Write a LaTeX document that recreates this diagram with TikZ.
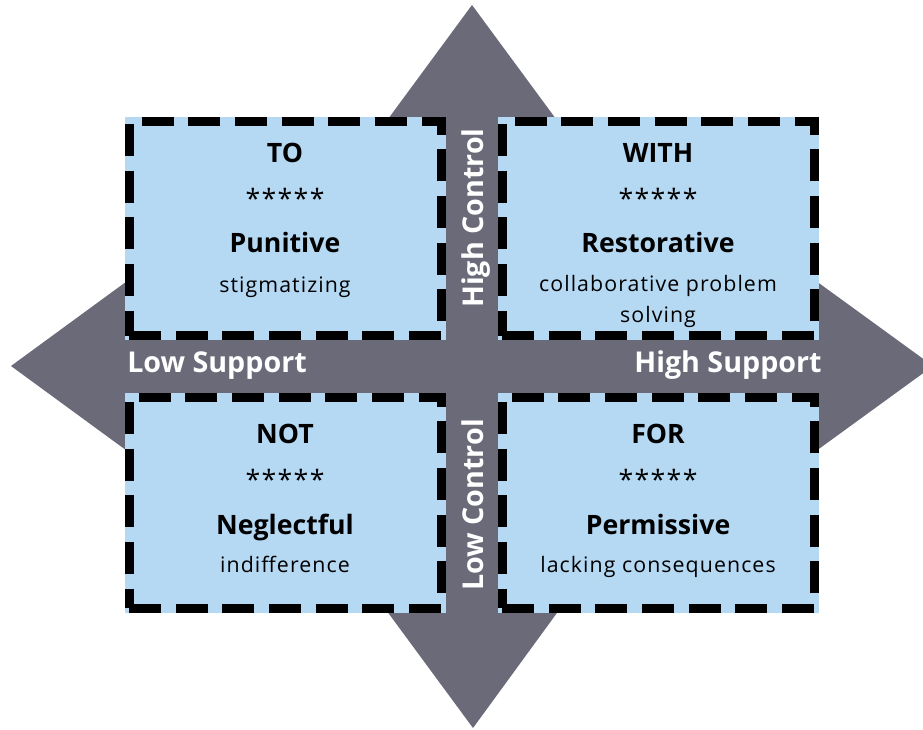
\documentclass[tikz,border=0pt]{standalone}
\usepackage{fontspec}
\usepackage{tikz}
\usepackage{xcolor}
\setmainfont{Open Sans}
\newfontfamily\subfont[LetterSpace=5]{Open Sans}

\definecolor{arrowgray}{RGB}{107,106,121}
\definecolor{boxblue}{RGB}{181,216,243}

\tikzset{
    quadrant/.style={draw=black, line width=6.75pt, dash pattern=on 24pt off 11pt,
                     preaction={draw=boxblue, solid, fill=boxblue},
                     minimum width=234pt, minimum height=160.5pt, inner sep=0pt, outer sep=0pt},
    title/.style={font=\bfseries\fontsize{20}{24}\selectfont, anchor=base},
    stars/.style={font=\subfont\fontsize{20}{24}\selectfont, anchor=base},
    sub/.style={font=\subfont\fontsize{16}{23.25}\selectfont, anchor=base, align=center},
    axis/.style={font=\bfseries\fontsize{21.5}{26}\selectfont, text=white, anchor=base}
}

\begin{document}
\begin{tikzpicture}[x=0.75pt, y=-0.75pt]
            \useasboundingbox (0,0) rectangle (923,730);
            \clip (0,0) rectangle (923,730);

            \fill[arrowgray] (472,5) -- (363,153) -- (160,257) -- (11,366) -- (160,475)
                -- (364,580) -- (473,728) -- (581,580) -- (783,475) -- (933,366)
                -- (783,257) -- (581,153) -- cycle;

            \node[quadrant] (boxTo) at (285,229) {};
            \node[quadrant] (boxWith) at (658,229) {};
            \node[quadrant, minimum height=158.25pt] (boxNot) at (285,502.5) {};
            \node[quadrant, minimum height=158.25pt] (boxFor) at (658,502.5) {};

            \node[title] at ([yshift=-30.75pt]boxTo.north) {TO};
            \node[stars] at ([yshift=-65.25pt]boxTo.north) {*****};
            \node[title] at ([yshift=-98.25pt]boxTo.north) {Punitive};
            \node[sub] at ([yshift=-128.25pt]boxTo.north) {stigmatizing};

            \node[title] at ([yshift=-30.75pt]boxWith.north) {WITH};
            \node[stars] at ([yshift=-65.25pt]boxWith.north) {*****};
            \node[title] at ([yshift=-98.25pt]boxWith.north) {Restorative};
            \node[sub] at ([yshift=-150.75pt]boxWith.north) {collaborative problem\\solving};

            \node[title] at ([yshift=-34.5pt]boxNot.north) {NOT};
            \node[stars] at ([yshift=-69pt]boxNot.north) {*****};
            \node[title] at ([yshift=-102.75pt]boxNot.north) {Neglectful};
            \node[sub] at ([yshift=-131.25pt]boxNot.north) {indifference};

            \node[title] at ([yshift=-34.5pt]boxFor.north) {FOR};
            \node[stars] at ([yshift=-69pt]boxFor.north) {*****};
            \node[title] at ([yshift=-102.75pt]boxFor.north) {Permissive};
            \node[sub] at ([yshift=-131.25pt]boxFor.north) {lacking consequences};

            \node[axis] (lowSupport) at (217,373) {Low Support};
            \node[axis] (highSupport) at (728,373) {High Support};
            \node[axis, rotate=90] (highControl) at (483,218) {High Control};
            \node[axis, rotate=90] (lowControl) at (483,505) {Low Control};
\end{tikzpicture}
\end{document}
